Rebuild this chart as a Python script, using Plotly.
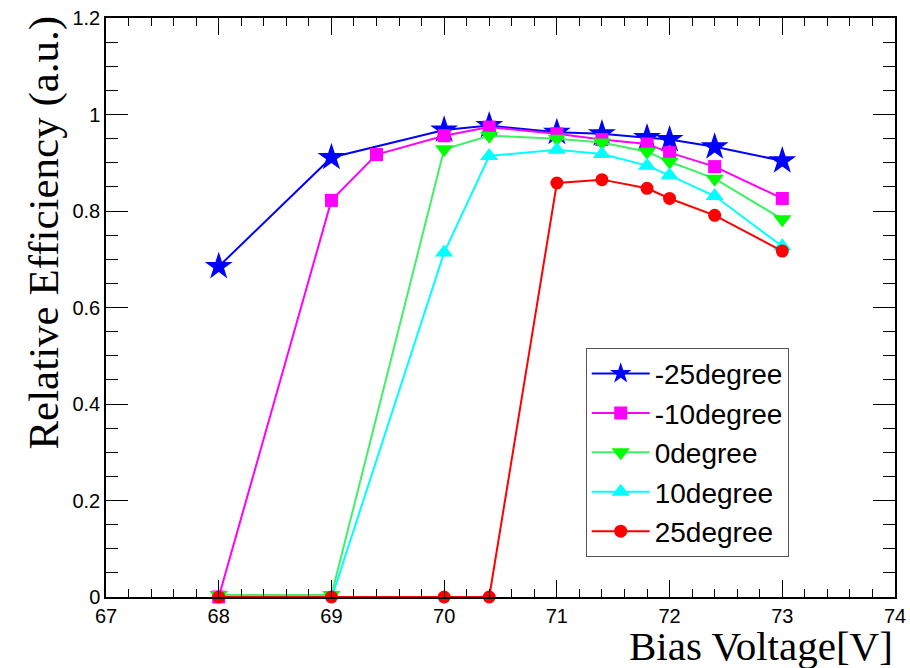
import plotly.graph_objects as go

# Bias voltage scan points [V]
voltage = [68, 69, 69.4, 70, 70.4, 71, 71.4, 71.8, 72, 72.4, 73]
volt_m25 = [68, 69, 70, 70.4, 71, 71.4, 71.8, 72, 72.4, 73]
volt_rest = [68, 69, 70, 70.4, 71, 71.4, 71.8, 72, 72.4, 73]

# Relative efficiency per incidence angle
eff_m25 = [0.685, 0.911, 0.968, 0.977, 0.963, 0.960, 0.952, 0.948, 0.933, 0.904]
eff_m10 = [0.0, 0.822, 0.917, 0.956, 0.974, 0.960, 0.948, 0.939, 0.921, 0.892, 0.826]
eff_0 = [0.004, 0.004, 0.928, 0.956, 0.950, 0.942, 0.923, 0.902, 0.867, 0.783]
eff_10 = [-0.003, -0.003, 0.714, 0.914, 0.927, 0.918, 0.894, 0.874, 0.831, 0.727]
eff_25 = [0.0, 0.0, 0.0, 0.0, 0.858, 0.865, 0.847, 0.826, 0.791, 0.717]

series = [
    ("-25degree", volt_m25, eff_m25, "#0000ff", "#0000ff", "star", 21),
    ("-10degree", voltage, eff_m10, "#ff00ff", "#ff00ff", "square", 13),
    ("0degree", volt_rest, eff_0, "#40f068", "#00ff00", "triangle-down", 16),
    ("10degree", volt_rest, eff_10, "#00ffff", "#00ffff", "triangle-up", 16),
    ("25degree", volt_rest, eff_25, "#ff0000", "#ff0000", "circle", 13),
]

fig = go.Figure()
for i, (name, xs, ys, lcol, mcol, sym, size) in enumerate(series):
    fig.add_trace(go.Scatter(
        x=xs, y=ys, name=name, mode="lines+markers",
        line=dict(color=lcol, width=2),
        marker=dict(symbol=sym, size=size, color=mcol, line=dict(width=0)),
        cliponaxis=False, legendgroup=f"g{i}",
    ))

tick_font = dict(family="Liberation Sans, Arial, sans-serif", size=20, color="black")

fig.update_xaxes(
    range=[67, 74], dtick=1, tick0=67, automargin=False,
    showline=True, linecolor="black", linewidth=1.5, mirror="allticks",
    ticks="inside", ticklen=17, tickwidth=1, tickcolor="black",
    minor=dict(dtick=0.2, ticks="inside", ticklen=8, tickcolor="black", tickwidth=1),
    showgrid=False, zeroline=False, tickfont=tick_font,
)
fig.update_yaxes(
    range=[0, 1.2], dtick=0.2, tick0=0, automargin=False,
    showline=True, linecolor="black", linewidth=1.5, mirror="allticks",
    ticks="inside", ticklen=22, tickwidth=1, tickcolor="black",
    minor=dict(dtick=0.05, ticks="inside", ticklen=12, tickcolor="black", tickwidth=1),
    showgrid=False, zeroline=False, tickfont=tick_font,
)

serif = "Liberation Serif, Times New Roman, serif"
fig.add_annotation(
    text="Bias Voltage[V]", xref="paper", yref="paper",
    x=1.0, y=-0.084, xanchor="right", yanchor="middle",
    showarrow=False, font=dict(family=serif, size=41, color="black"),
)
fig.add_annotation(
    text="Relative Efficiency (a.u.)", xref="paper", yref="paper",
    x=-0.079, y=1.007, xanchor="center", yanchor="top", textangle=-90,
    showarrow=False, font=dict(family=serif, size=43, color="black"),
)

fig.update_layout(
    width=910, height=668,
    margin=dict(l=106, r=15, t=18, b=71, autoexpand=False),
    paper_bgcolor="white", plot_bgcolor="white",
    showlegend=True,
    legend=dict(
        x=0.608, y=0.4303, xanchor="left", yanchor="top",
        bordercolor="#555555", borderwidth=1, bgcolor="white",
        font=dict(family="Liberation Sans, Arial, sans-serif", size=28, color="black"),
        tracegroupgap=0, itemwidth=58, entrywidth=178,
    ),
)

fig.write_html("out.html")
